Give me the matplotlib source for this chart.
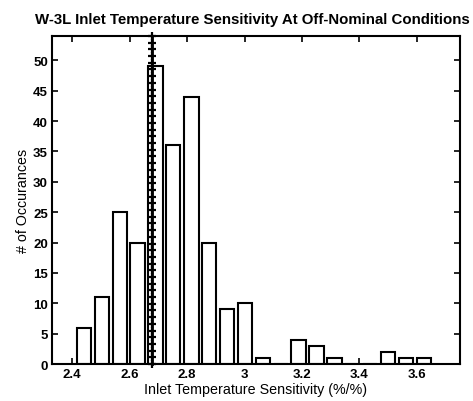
import numpy as np
import matplotlib
matplotlib.use("Agg")
import matplotlib.pyplot as plt

# Histogram bin centers (Inlet Temperature Sensitivity, %/%)
bin_centers = [2.441, 2.503, 2.566, 2.628, 2.690, 2.752, 2.815, 2.877, 2.939, 3.001,
               3.064, 3.126, 3.188, 3.250, 3.313, 3.375, 3.437, 3.499, 3.562, 3.624]
counts = [6, 11, 25, 20, 49, 36, 44, 20, 9, 10,
          1, 0, 4, 3, 1, 0, 0, 2, 1, 1]
bin_width = 0.0623

# Nominal value marker line
nominal_x = 2.677
nominal_y_top = 54

xticks = [2.4, 2.6, 2.8, 3.0, 3.2, 3.4, 3.6]
xtick_labels = ["2.4", "2.6", "2.8", "3", "3.2", "3.4", "3.6"]
yticks = [0, 5, 10, 15, 20, 25, 30, 35, 40, 45, 50]

plt.rcParams['font.family'] = ['Liberation Sans', 'DejaVu Sans']

fig = plt.figure(figsize=(4.73, 4.02), dpi=100)
ax = fig.add_axes([0.110, 0.092, 0.8625, 0.816])

ax.bar(bin_centers, counts, width=bin_width * 0.8, facecolor='white',
       edgecolor='black', linewidth=1.5, zorder=2)

ny = np.linspace(0, nominal_y_top, 50)
ax.plot([nominal_x] * len(ny), ny, color='black', linewidth=2.0, marker='+',
        markersize=6, markeredgewidth=1.6, zorder=3, clip_on=False)

ax.set_xlim(2.33, 3.75)
ax.set_ylim(0, 54)
ax.set_xticks(xticks)
ax.set_xticklabels(xtick_labels)
ax.set_yticks(yticks)

ax.tick_params(direction='in', length=4, width=1.2, top=True, right=True,
               labelsize=9.5, pad=3)
for lab in ax.get_xticklabels() + ax.get_yticklabels():
    lab.set_fontweight('bold')
for s in ax.spines.values():
    s.set_linewidth(1.5)

ax.set_title("W-3L Inlet Temperature Sensitivity At Off-Nominal Conditions",
             fontsize=10.8, fontweight='bold', pad=9, x=0.49)
ax.set_xlabel("Inlet Temperature Sensitivity (%/%)", fontsize=10.3, labelpad=1)
ax.set_ylabel("# of Occurances", fontsize=10.3, labelpad=2)

fig.savefig("out.png", dpi=100)
